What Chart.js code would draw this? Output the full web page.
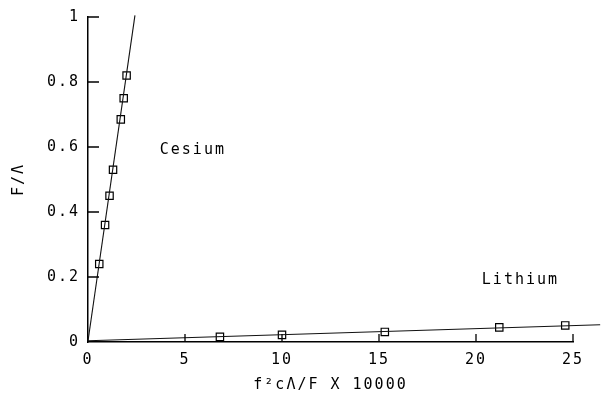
<!DOCTYPE html>
<html>
<head>
<meta charset="utf-8">
<script src="https://cdn.jsdelivr.net/npm/chart.js@4"></script>
<style>
  html, body { margin: 0; padding: 0; background: #fff; }
  #wrap { width: 609px; height: 394px; }
</style>
</head>
<body>
<div id="wrap"><canvas id="plot"></canvas></div>
<script>
// values
const xTicks = [0, 5, 10, 15, 20, 25];
const yTicks = [0, 0.2, 0.4, 0.6, 0.8, 1];
const yTickLabels = ['0', '0.2', '0.4', '0.6', '0.8', '1'];

const cesiumX = [0.58, 0.88, 1.11, 1.29, 1.69, 1.84, 1.99];
const cesiumY = [0.24, 0.36, 0.45, 0.53, 0.685, 0.75, 0.82];
const lithiumX = [6.8, 10.0, 15.3, 21.2, 24.6];
const lithiumY = [0.016, 0.022, 0.031, 0.045, 0.051];

// fitted straight lines
const cesiumFitX = [0, 2.42];
const cesiumFitY = [0.003, 1.005];
const lithiumFitX = [0, 26.4];
const lithiumFitY = [0.004, 0.053];

const seriesLabels = [
    { text: 'Cesium', x: 3.7, y: 0.59 },
    { text: 'Lithium', x: 20.3, y: 0.19 }
];

const FONT = '"DejaVu Sans Mono", monospace';
const SPACING = '2px';
const pts = (xs, ys) => xs.map((x, i) => ({ x: x, y: ys[i] }));

// letter spacing, inward ticks and the text next to the lines
const plotterLook = {
    id: 'plotterLook',
    beforeDraw(chart) {
        chart.ctx.letterSpacing = SPACING;
    },
    afterDraw(chart) {
        const ctx = chart.ctx;
        const xs = chart.scales.x, ys = chart.scales.y;
        const area = chart.chartArea;
        ctx.save();
        ctx.strokeStyle = '#000';
        ctx.lineWidth = 1.3;
        ctx.beginPath();
        yTicks.forEach(v => {
            if (v === 0) return;
            const py = ys.getPixelForValue(v);
            ctx.moveTo(area.left, py);
            ctx.lineTo(area.left + 11, py);
        });
        xTicks.forEach(v => {
            if (v === 0) return;
            const px = xs.getPixelForValue(v);
            ctx.moveTo(px, area.bottom);
            ctx.lineTo(px, area.bottom - 8);
        });
        ctx.stroke();

        ctx.fillStyle = '#000';
        ctx.font = '15px ' + FONT;
        ctx.letterSpacing = SPACING;
        ctx.textAlign = 'left';
        ctx.textBaseline = 'middle';
        seriesLabels.forEach(l => {
            ctx.fillText(l.text, xs.getPixelForValue(l.x), ys.getPixelForValue(l.y));
        });
        ctx.restore();
    }
};

const markerStyle = {
    showLine: false,
    pointStyle: 'rect',
    pointRadius: 5.2,
    pointBorderWidth: 1.2,
    pointBorderColor: '#000',
    pointBackgroundColor: '#fff'
};

const fitStyle = {
    showLine: true,
    borderColor: '#111',
    borderWidth: 1.1,
    pointRadius: 0,
    clip: false
};

new Chart(document.getElementById('plot'), {
    type: 'scatter',
    data: {
        datasets: [
            Object.assign({ label: 'Cesium fit', data: pts(cesiumFitX, cesiumFitY) }, fitStyle),
            Object.assign({ label: 'Lithium fit', data: pts(lithiumFitX, lithiumFitY) }, fitStyle),
            Object.assign({ label: 'Cesium', data: pts(cesiumX, cesiumY) }, markerStyle),
            Object.assign({ label: 'Lithium', data: pts(lithiumX, lithiumY) }, markerStyle)
        ]
    },
    options: {
        responsive: true,
        maintainAspectRatio: false,
        animation: false,
        events: [],
        layout: { padding: { top: 17, right: 36, left: 0, bottom: 0 } },
        plugins: { legend: { display: false }, tooltip: { enabled: false } },
        scales: {
            x: {
                type: 'linear',
                min: 0, max: 25,
                afterFit: s => { s.height = 52; },
                afterBuildTicks: s => { s.ticks = xTicks.map(v => ({ value: v })); },
                grid: { display: true, drawOnChartArea: false, drawTicks: false },
                border: { display: true, color: '#000', width: 1.5 },
                ticks: {
                    color: '#000',
                    padding: 9,
                    font: { family: FONT, size: 15 },
                    callback: v => String(v)
                },
                title: {
                    display: true,
                    text: 'f²cΛ/F X 10000',
                    color: '#000',
                    padding: { top: 0, bottom: 0 },
                    font: { family: FONT, size: 15 }
                }
            },
            y: {
                type: 'linear',
                min: 0, max: 1,
                afterFit: s => { s.width = 88; },
                afterBuildTicks: s => { s.ticks = yTicks.map(v => ({ value: v })); },
                grid: { display: true, drawOnChartArea: false, drawTicks: false },
                border: { display: true, color: '#000', width: 1.5 },
                ticks: {
                    color: '#000',
                    padding: 8,
                    font: { family: FONT, size: 15 },
                    callback: (v, i) => yTickLabels[i]
                },
                title: {
                    display: true,
                    text: 'F/Λ',
                    color: '#000',
                    padding: { top: 10, bottom: 0 },
                    font: { family: FONT, size: 15 }
                }
            }
        }
    },
    plugins: [plotterLook]
});
</script>
</body>
</html>
